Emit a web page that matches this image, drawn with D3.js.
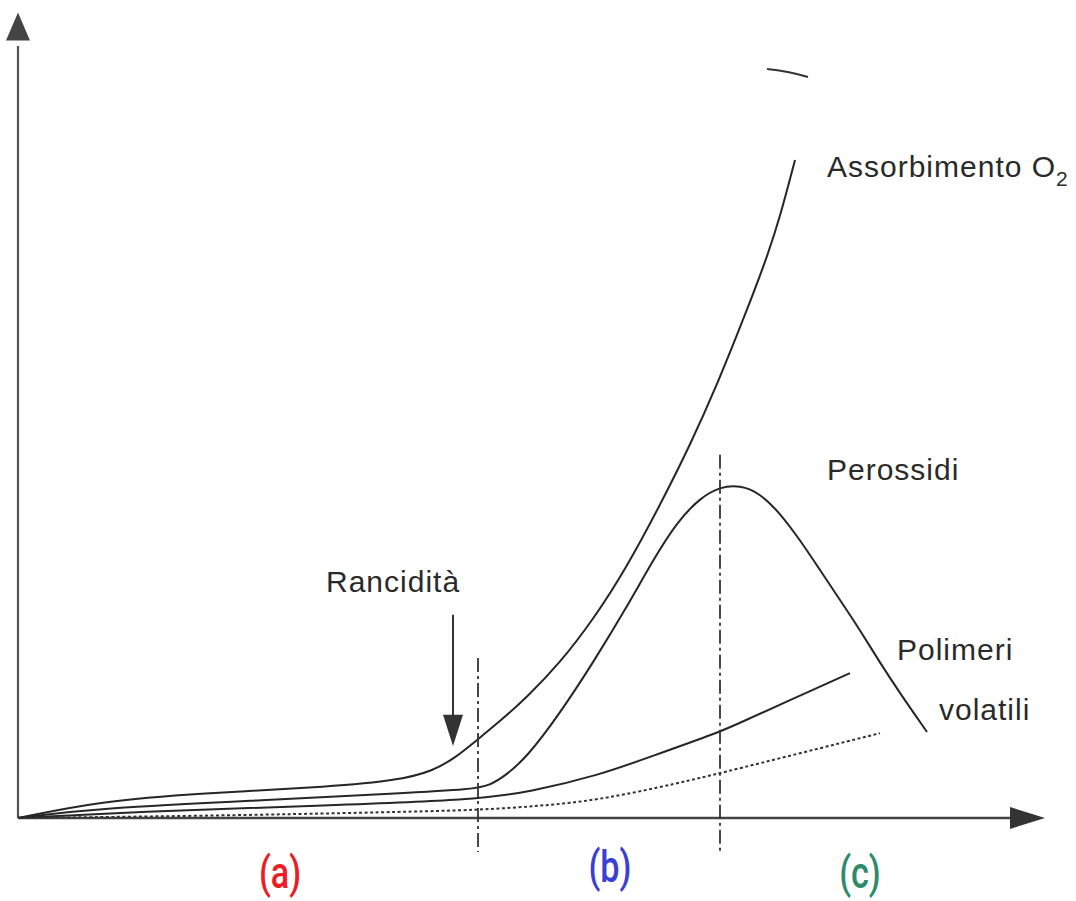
<!DOCTYPE html>
<html><head><meta charset="utf-8">
<script src="https://cdn.jsdelivr.net/npm/d3@7"></script>
<style>html,body{margin:0;padding:0;background:#fff;} svg{display:block;}</style>
</head><body>
<script>
// time (arbitrary units) and response (arbitrary units)
const assorbimentoT = [0,8.2,18.2,31.5,38.2,41.5,43.7,45.9,48.2,50.9,54.2,57.5,60.9,64.2,67.2,69.9,72.9,74.9,76.2,77.7];
const assorbimentoY = [0,2.1,3.1,3.9,4.75,5.9,7.5,9.75,12.1,15.1,19.4,24.75,31.4,39.1,46.6,54.1,63.5,70.1,75.1,82.25];
const perossidiT = [0,8.2,24.9,38.2,45.5,47.2,48.7,50.9,54.2,57.5,60.9,63.5,65.9,68.2,70.2,72.2,74.2,76.2,78.2,80.2,82.2,84.2,86.2,88.2,90.9];
const perossidiY = [0,1.25,2.25,3.1,3.6,4.1,5.25,7.6,13.1,19.4,26.4,32.25,37,40,41.4,41.6,40.6,38.1,34.75,31,27.25,23.5,19.4,15.6,10.75];
const polimeriT = [0,11.5,31.5,45.5,51.2,58.2,62.9,70.2,72.2,77.2,83.2];
const polimeriY = [0,0.75,1.6,2.25,3.25,5.4,7.5,10.75,11.9,14.75,18.1];
const volatiliT = [0,18.2,38.2,46,52.2,58.2,66.2,70.2,78.2,86.2];
const volatiliY = [0,0.25,0.75,1,1.5,2.25,4.4,5.6,8.1,10.6];
const phaseBounds = [46, 70.2];
const phaseLabels = ["(a)","(b)","(c)"];
const phaseColors = ["#ec1c24","#3b3fd3","#2f8a6c"];
const rancT = 43.5;

const W = 1076, H = 901;
const x = d3.scaleLinear().domain([0,100]).range([18,1018]);
const y = d3.scaleLinear().domain([0,100]).range([818,18]);

const svg = d3.select("body").append("svg").attr("width",W).attr("height",H);
const ink = "#262626";
const font = "'Liberation Sans', Arial, Helvetica, sans-serif";

// axes
svg.append("line").attr("x1",x(0)).attr("y1",y(0)).attr("x2",x(0)).attr("y2",y(96.5))
  .attr("stroke","#555").attr("stroke-width",2.2);
svg.append("path").attr("d",`M${x(0)},${y(100.7)} L${x(0)-12},${y(97.2)} L${x(0)+12},${y(97.2)} Z`).attr("fill","#444");
svg.append("line").attr("x1",x(0)).attr("y1",y(0)).attr("x2",x(99.5)).attr("y2",y(0))
  .attr("stroke","#444").attr("stroke-width",2.6);
svg.append("path").attr("d",`M${x(102.7)},${y(0)} L${x(99.2)},${y(0)-11} L${x(99.2)},${y(0)+11} Z`).attr("fill","#333");

const line = d3.line().x(d=>x(d[0])).y(d=>y(d[1])).curve(d3.curveBasis);
function series(T,Y){return T.map((t,i)=>[t,Y[i]]);}

svg.append("path").datum(series(assorbimentoT,assorbimentoY)).attr("d",line)
  .attr("fill","none").attr("stroke",ink).attr("stroke-width",2);
svg.append("path").datum(series(perossidiT,perossidiY)).attr("d",line)
  .attr("fill","none").attr("stroke",ink).attr("stroke-width",2);
svg.append("path").datum(series(polimeriT,polimeriY)).attr("d",line)
  .attr("fill","none").attr("stroke",ink).attr("stroke-width",2);
svg.append("path").datum(series(volatiliT,volatiliY)).attr("d",line)
  .attr("fill","none").attr("stroke","#333").attr("stroke-width",2).attr("stroke-dasharray","3,2.5");

// phase boundaries (dash-dot)
const vTop = [20, 45.4], vBot = [-4.25, -4.6];
phaseBounds.forEach((b,i)=>{
  svg.append("line").attr("x1",x(b)).attr("x2",x(b)).attr("y1",y(vTop[i])).attr("y2",y(vBot[i]))
    .attr("stroke","#333").attr("stroke-width",1.8).attr("stroke-dasharray","14,4,3,4");
});

// Rancidità arrow
svg.append("line").attr("x1",x(rancT)).attr("x2",x(rancT)).attr("y1",y(25.4)).attr("y2",y(12.5))
  .attr("stroke","#333").attr("stroke-width",2);
svg.append("path").attr("d",`M${x(rancT)},${y(9.0)} L${x(rancT)-10},${y(12.9)} L${x(rancT)+10},${y(12.9)} Z`).attr("fill","#333");

// text labels
const lab = (tx,ty,txt,size)=>svg.append("text").attr("x",tx).attr("y",ty).attr("font-family",font)
  .attr("font-size",size).attr("letter-spacing","1px").attr("fill","#2a2a2a").text(txt);
const t1 = lab(827,177,"Assorbimento O",30);
t1.append("tspan").attr("dy",9).attr("font-size",21).text("2");
lab(827,480,"Perossidi",30);
lab(326,592,"Rancidità",30);
lab(897,660,"Polimeri",30);
lab(939,720,"volatili",30);

// phase labels
const centers = [26.2, 59.2, 84.2];
phaseLabels.forEach((t,i)=>{
  const cx = x(centers[i]);
  const cy = i===1 ? 882 : 888;
  svg.append("text").attr("transform",`translate(${cx},${cy}) scale(0.76,1)`)
    .attr("text-anchor","middle").attr("font-family","Roboto, sans-serif").attr("font-weight",500)
    .attr("font-size",45).attr("fill",phaseColors[i]).text(t);
});

// scan mark near top
svg.append("path").attr("d","M767,69 Q788,71 808,77").attr("fill","none").attr("stroke","#333").attr("stroke-width",2.2);
</script>
</body></html>
